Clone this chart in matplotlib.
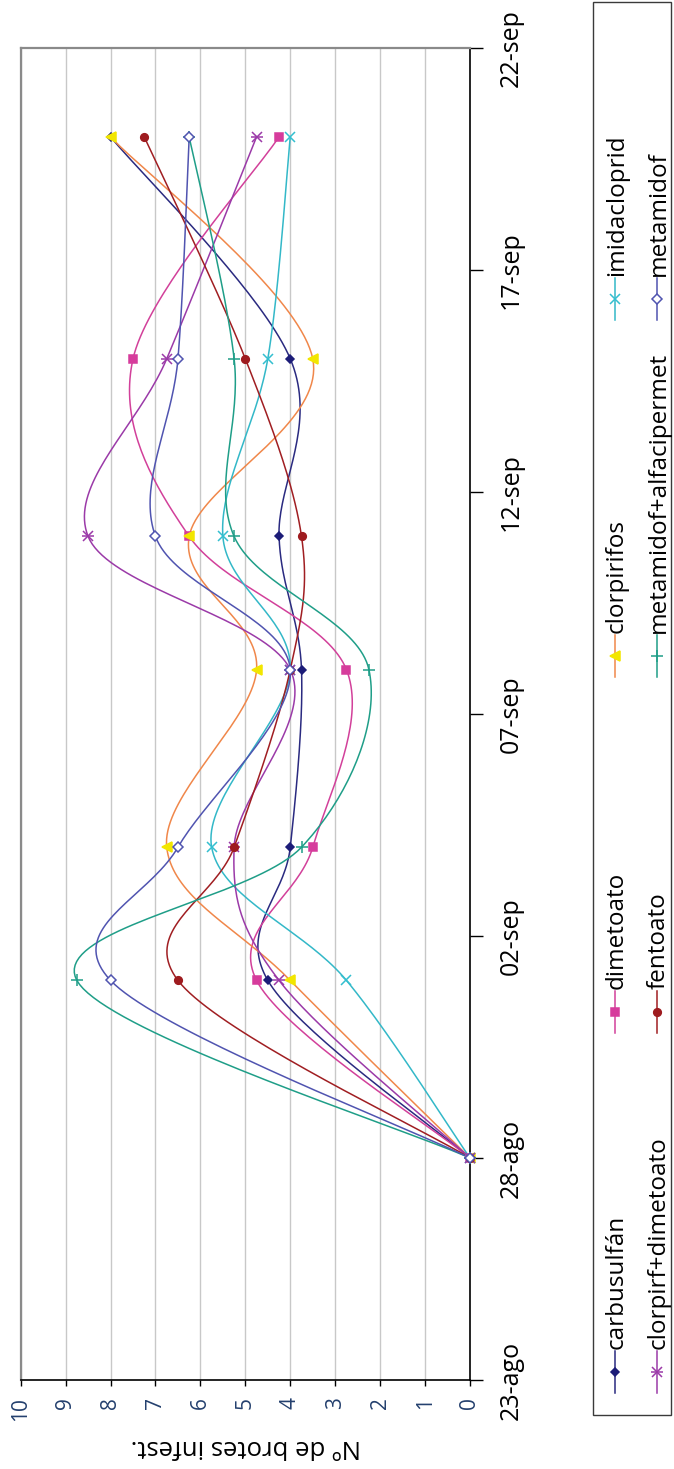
import numpy as np
import matplotlib.pyplot as plt
from matplotlib.lines import Line2D
from matplotlib.patches import Rectangle

plt.rcParams['font.family'] = ['Open Sans', 'DejaVu Sans']

W, H = 674, 1469

# days counted from 23-ago
dias = [5, 9, 12, 16, 19, 23, 28]
fecha_ticks = [0, 5, 10, 15, 20, 25, 30]
fecha_labels = ['23-ago', '28-ago', '02-sep', '07-sep', '12-sep', '17-sep', '22-sep']

nombres = ['carbusulfán', 'dimetoato', 'clorpirifos', 'imidacloprid',
           'clorpirf+dimetoato', 'fentoato', 'metamidof+alfacipermet', 'metamidof']
carbusulfan = [0, 4.5, 4.0, 3.75, 4.25, 4.0, 8.0]
dimetoato = [0, 4.75, 3.5, 2.75, 6.25, 7.5, 4.25]
clorpirifos = [0, 4.0, 6.75, 4.75, 6.25, 3.5, 8.0]
imidacloprid = [0, 2.75, 5.75, 4.0, 5.5, 4.5, 4.0]
clorpirf_dimetoato = [0, 4.25, 5.25, 4.0, 8.5, 6.75, 4.75]
fentoato = [0, 6.5, 5.25, 4.0, 3.75, 5.0, 7.25]
metamidof_alfa = [0, 8.75, 3.75, 2.25, 5.25, 5.25, 6.25]
metamidof = [0, 8.0, 6.5, 4.0, 7.0, 6.5, 6.25]
valores = [carbusulfan, dimetoato, clorpirifos, imidacloprid,
           clorpirf_dimetoato, fentoato, metamidof_alfa, metamidof]

lineas = ['#2a2a80', '#d2409a', '#f0874a', '#33b8c8', '#9b3aa8', '#a01e22', '#1f9e88', '#5054b0']
# (marker, facecolor, edgecolor, size)
marcas = [('D', '#1c1c78', '#1c1c78', 4.5),
          ('s', '#d63c9c', '#d63c9c', 5.5),
          ('<', '#f2e600', '#f2e600', 6.5),
          ('x', '#33bfcf', '#33bfcf', 7),
          ('star', '#9b3aa8', '#9b3aa8', 7),
          ('o', '#9e1b1f', '#9e1b1f', 5.5),
          ('+', '#1f9e88', '#1f9e88', 8),
          ('D', 'white', '#5054b0', 5)]

PXD, PXV = 44.4, 44.95


def suavizar(v, d, n=40):
    # Excel-like smoothed line (Catmull-Rom bezier) in pixel space
    p = np.column_stack([np.array(v) * PXV, np.array(d) * PXD])
    out = [p[0]]
    for i in range(len(p) - 1):
        p0 = p[i - 1] if i > 0 else p[i]
        p1, p2 = p[i], p[i + 1]
        p3 = p[i + 2] if i + 2 < len(p) else p[i + 1]
        c1 = p1 + (p2 - p0) / 6
        c2 = p2 - (p3 - p1) / 6
        t = np.linspace(0, 1, n)[1:, None]
        seg = (1 - t) ** 3 * p1 + 3 * (1 - t) ** 2 * t * c1 + 3 * (1 - t) * t ** 2 * c2 + t ** 3 * p2
        out.extend(seg)
    out = np.array(out)
    return out[:, 0] / PXV, out[:, 1] / PXD


def marca(axx, xs, ys, m, **kw):
    mk, fc, ec, ms = m
    if mk == 'star':
        axx.plot(xs, ys, ls='none', marker='x', mec=ec, ms=ms, mew=1.1, **kw)
        axx.plot(xs, ys, ls='none', marker='_', mec=ec, ms=ms + 2, mew=1.1, **kw)
    else:
        axx.plot(xs, ys, ls='none', marker=mk, mfc=fc, mec=ec, ms=ms, mew=1.1, **kw)


fig = plt.figure(figsize=(W / 100, H / 100), dpi=100)
ax = fig.add_axes([20.7 / W, 1 - 1380 / H, (470 - 20.7) / W, (1380 - 48) / H])
ax.set_xlim(10, 0)
ax.set_ylim(0, 30)

for v, c, m in zip(valores, lineas, marcas):
    sx, sy = suavizar(v, dias)
    ax.plot(sx, sy, color=c, lw=1.1, zorder=3)
    marca(ax, v, dias, m, zorder=4, clip_on=False)

ax.grid(axis='x', color='#c8c8c8', lw=1)
ax.set_axisbelow(True)

ax.yaxis.tick_right()
ax.set_yticks(fecha_ticks)
ax.set_yticklabels(fecha_labels, rotation=90, fontsize=18)
for lb in ax.get_yticklabels():
    lb.set_va('center')
ax.tick_params(axis='y', direction='out', length=9, width=1, pad=12)

ax.set_xticks(range(0, 11))
ax.set_xticklabels([str(i) for i in range(0, 11)], rotation=90, fontsize=15, color='#24406e')
ax.tick_params(axis='x', direction='out', length=4, width=1, pad=8)

for s in ['left', 'top']:
    ax.spines[s].set_color('#8a8a8a')
    ax.spines[s].set_linewidth(1.6)
for s in ['right', 'bottom']:
    ax.spines[s].set_color('black')
    ax.spines[s].set_linewidth(1.2)

fig.text(246 / W, 1 - 1447 / H, 'Nº de brotes infest.', rotation=180,
         ha='center', va='center', fontsize=18.5)

# legend drawn by hand, rotated
fig.add_artist(Rectangle((593 / W, 1 - 1415 / H), (671 - 593) / W, (1415 - 2) / H,
                         transform=fig.transFigure, fill=False, ec='#3a3a3a', lw=1))
col_x = [615, 657]
fila_y = [1393, 1033, 677, 320]
for k, nombre in enumerate(nombres):
    x = col_x[k // 4]
    yb = fila_y[k % 4]
    xf = x / W
    fig.add_artist(Line2D([xf, xf], [1 - yb / H, 1 - (yb - 42) / H],
                          transform=fig.transFigure, color=lineas[k], lw=1.1))
    mk, fc, ec, ms = marcas[k]
    ym = 1 - (yb - 21) / H
    if mk == 'star':
        for mm, extra in (('x', 0), ('_', 2)):
            fig.add_artist(Line2D([xf], [ym], transform=fig.transFigure, ls='none',
                                  marker=mm, mec=ec, ms=ms + extra, mew=1.1))
    else:
        fig.add_artist(Line2D([xf], [ym], transform=fig.transFigure, ls='none',
                              marker=mk, mfc=fc, mec=ec, ms=ms, mew=1.1))
    fig.text((x + 2) / W, 1 - (yb - 44) / H, nombre, rotation=90,
             ha='center', va='bottom', fontsize=17.5)

fig.savefig('out.png', dpi=100)
